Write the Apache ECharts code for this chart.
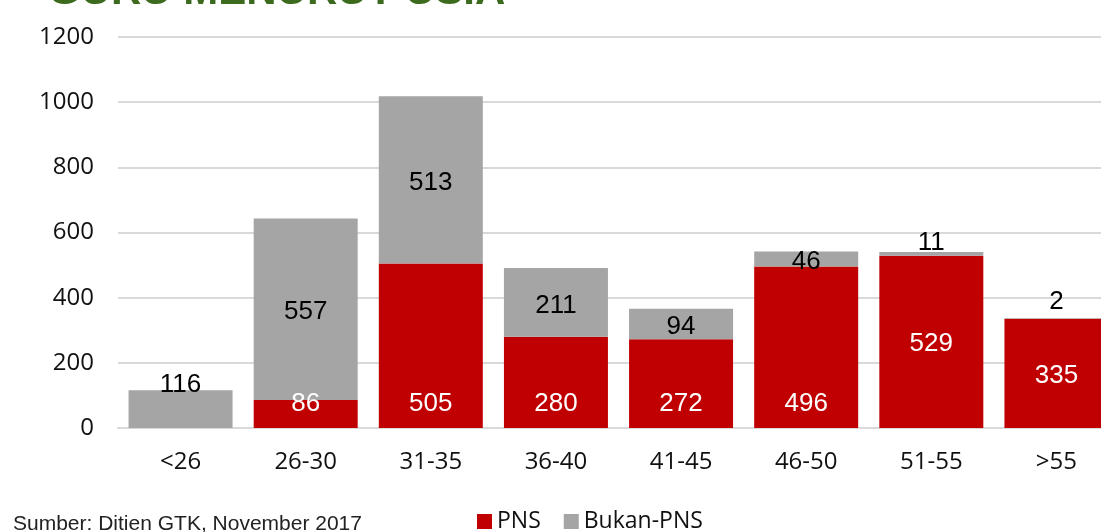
<!DOCTYPE html>
<html>
<head>
<meta charset="utf-8">
<title>Guru menurut usia</title>
<script src="https://cdn.jsdelivr.net/npm/echarts@6/dist/echarts.min.js"></script>
<style>
  html, body { margin: 0; padding: 0; background: #fff; overflow: hidden; }
  /* the slide's plot runs past the right edge, so the canvas is wider than the window */
  #chart { width: 1119px; height: 532px; }
</style>
</head>
<body>
<div id="chart"></div>
<script>
var categories = ['<26', '26-30', '31-35', '36-40', '41-45', '46-50', '51-55', '>55'];
var pns = [0, 86, 505, 280, 272, 496, 529, 335];
var bukanPns = [116, 557, 513, 211, 94, 46, 11, 2];
var yTicks = [0, 200, 400, 600, 800, 1000, 1200];

// label placement per bar (as in the original slide)
var pnsLabelPos = ['insideBottom', 'insideBottom', 'insideBottom', 'insideBottom', 'insideBottom', 'insideBottom', 'inside', 'inside'];
var bukanLabelPos = ['top', 'inside', 'inside', 'inside', 'inside', 'inside', 'top', 'top'];
var bukanLabelDist = [-5, 5, 5, 5, 5, 5, -1, 6];

var labelFont = { fontFamily: 'Liberation Sans', fontSize: 26 };

function pnsData() {
    return pns.map(function (v, i) {
        return {
            value: v,
            label: {
                show: v > 0,
                position: pnsLabelPos[i],
                distance: 13,
                offset: [0, 2],
                color: '#fff',
                fontFamily: labelFont.fontFamily,
                fontSize: labelFont.fontSize
            }
        };
    });
}

function bukanData() {
    return bukanPns.map(function (v, i) {
        return {
            value: v,
            label: {
                show: true,
                position: bukanLabelPos[i],
                distance: bukanLabelDist[i],
                offset: [0, 3],
                color: '#000',
                fontFamily: labelFont.fontFamily,
                fontSize: labelFont.fontSize
            }
        };
    });
}

var option = {
    animation: false,
    backgroundColor: '#fff',
    title: [{
        text: 'GURU MENURUT USIA',
        left: 43,
        top: -34,
        textStyle: { color: '#3d6b1e', fontFamily: 'Liberation Sans', fontWeight: 'bold', fontSize: 42 }
    }, {
        text: 'Sumber: Ditien GTK, November 2017',
        left: 8,
        top: 509,
        textStyle: { color: '#222', fontFamily: 'Liberation Sans', fontWeight: 'normal', fontSize: 21 }
    }],
    legend: {
        data: ['PNS', 'Bukan-PNS'],
        left: 472,
        top: 505,
        icon: 'rect',
        itemWidth: 15,
        itemHeight: 15,
        itemGap: 23,
        textStyle: { fontFamily: 'Open Sans', fontSize: 23, color: '#111' }
    },
    grid: { left: 118, right: 0, top: 37, bottom: 104, containLabel: false },
    xAxis: {
        type: 'category',
        data: categories,
        axisTick: { show: false },
        axisLine: { show: true, lineStyle: { color: '#d9d9d9', width: 2 } },
        axisLabel: { margin: 22, fontFamily: 'Open Sans', fontSize: 24, color: '#111' }
    },
    yAxis: {
        type: 'value',
        min: yTicks[0],
        max: yTicks[yTicks.length - 1],
        interval: 200,
        axisLine: { show: false },
        axisTick: { show: false },
        splitLine: { lineStyle: { color: '#d9d9d9', width: 2 } },
        axisLabel: {
            margin: 24, fontFamily: 'Open Sans', fontSize: 24, color: '#111',
            formatter: function (v) { return String(v); }
        }
    },
    series: [{
        name: 'PNS',
        type: 'bar',
        stack: 'total',
        barWidth: 104,
        itemStyle: { color: '#c00000' },
        data: pnsData()
    }, {
        name: 'Bukan-PNS',
        type: 'bar',
        stack: 'total',
        barWidth: 104,
        itemStyle: { color: '#a5a5a5' },
        data: bukanData()
    }]
};

var chart = echarts.init(document.getElementById('chart'));
chart.setOption(option);
</script>
</body>
</html>
